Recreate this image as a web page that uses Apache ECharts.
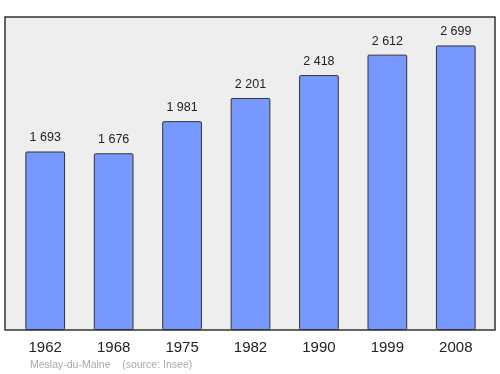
<!DOCTYPE html>
<html><head><meta charset="utf-8">
<script src="https://cdn.jsdelivr.net/npm/echarts@6/dist/echarts.min.js"></script>
<style>html,body{margin:0;padding:0;background:#fff}#c{width:500px;height:374px}</style>
</head><body><div id="c"></div>
<script>
var years = ['1962','1968','1975','1982','1990','1999','2008'];
var population = [1693,1676,1981,2201,2418,2612,2699];
var footer = 'Meslay-du-Maine    (source: Insee)';
function fmt(v){var s=String(v);return s.length>3? s.slice(0,s.length-3)+' '+s.slice(-3):s;}
var FONT = '"Liberation Sans", Arial, sans-serif';
var chart = echarts.init(document.getElementById('c'));
chart.setOption({
  animation:false,
  graphic:[
    {type:'rect',z:-1,shape:{x:5,y:17,width:490,height:313},style:{fill:'#eeeeee',stroke:'#333',lineWidth:1.5}},
    {type:'text',left:30,top:360,style:{text:footer,fill:'#aaaaaa',font:'10.5px ' + FONT}}
  ],
  grid:{left:11,right:10,top:17,bottom:44},
  xAxis:{type:'category',data:years,boundaryGap:true,
    axisLine:{show:false},axisTick:{show:false},
    axisLabel:{color:'#222',fontSize:15,fontFamily:FONT,margin:10}},
  yAxis:{type:'value',min:0,max:Math.max.apply(null,population)*1.1,show:false,splitLine:{show:false}},
  series:[{type:'bar',data:population,barWidth:'58%',
    itemStyle:{color:'#7799ff',borderColor:'#333',borderWidth:1,borderRadius:1},
    label:{show:true,position:'top',distance:7,color:'#222',fontSize:12.5,fontFamily:FONT,
      formatter:function(p){return fmt(p.value);}}}]
});
</script></body></html>
